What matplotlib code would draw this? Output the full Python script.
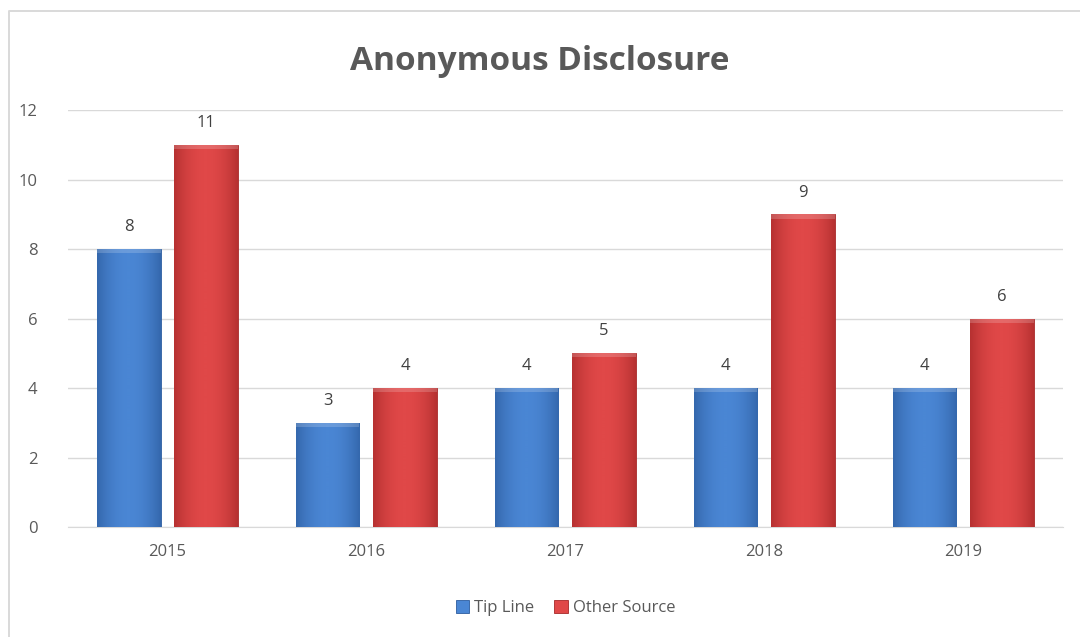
import numpy as np
import matplotlib.pyplot as plt
from matplotlib.patches import Rectangle
from matplotlib.lines import Line2D
from matplotlib.colors import LinearSegmentedColormap

years = ["2015", "2016", "2017", "2018", "2019"]
tip_line = [8, 3, 4, 4, 4]
other_source = [11, 4, 5, 9, 6]

plt.rcParams['font.family'] = ['Open Sans', 'DejaVu Sans']

fig = plt.figure(figsize=(10.8, 6.37), dpi=100)
ax = fig.add_axes([0.063, 0.1727, 0.921, 0.6543])

# chart border (cropped: only top and left edges show)
bx, by = 8.5 / 1080, 1 - 10.5 / 637
fig.add_artist(Line2D([bx, bx, 1.0], [0.0, by, by], transform=fig.transFigure,
                      color='#d9d9d9', linewidth=1.4))


def shaded_bars(x, heights, base, dark, label):
    bars = ax.bar(x, heights, width=0.32, color=base, edgecolor=dark,
                  linewidth=0.6, label=label, zorder=3)
    # horizontal gradient: lighter in the middle, darker at the edges
    grad = np.abs(np.linspace(-1, 1, 64)) ** 2
    cmap = LinearSegmentedColormap.from_list("g", [base, dark])
    for b in bars:
        x0, w, h = b.get_x(), b.get_width(), b.get_height()
        im = ax.imshow(grad[None, :], cmap=cmap, vmin=0, vmax=1.4,
                       extent=[x0, x0 + w, 0, h], aspect='auto', zorder=3.5)
        im.set_clip_path(b)
        # top bevel
        ax.add_patch(Rectangle((x0, h - 0.12), w, 0.12, facecolor='white',
                               alpha=0.18, edgecolor='none', zorder=4))
    for xi, v in zip(x, heights):
        ax.text(xi, v + 0.4, str(v), ha='center', va='bottom', fontsize=12,
                color='#404040')
    return bars


x = np.arange(len(years))
shaded_bars(x - 0.195, tip_line, '#4a86d4', '#2c5c9e', 'Tip Line')
shaded_bars(x + 0.195, other_source, '#e04848', '#a62828', 'Other Source')

ax.set_xlim(-0.5, len(years) - 0.5)
ax.set_ylim(0, 12)
ax.set_yticks(range(0, 13, 2))
ax.set_xticks(x)
ax.set_xticklabels(years)
ax.yaxis.grid(True, color='#d9d9d9', linewidth=1, zorder=0)
ax.set_axisbelow(True)
for s in ['top', 'right', 'left']:
    ax.spines[s].set_visible(False)
ax.spines['bottom'].set_color('#d9d9d9')
ax.tick_params(length=0, labelsize=12, labelcolor='#595959', pad=12)
ax.tick_params(axis='y', pad=22)

fig.text(0.5, 0.904, "Anonymous Disclosure", ha='center', va='center',
         fontsize=24, fontweight='bold', color='#595959')

ax.legend(loc='center', bbox_to_anchor=(0.5, -0.195), ncol=2, frameon=False,
          fontsize=12, handlelength=0.8, handleheight=0.8, handletextpad=0.3,
          columnspacing=1.2, labelcolor='#595959')

fig.savefig("out.png", dpi=100)
